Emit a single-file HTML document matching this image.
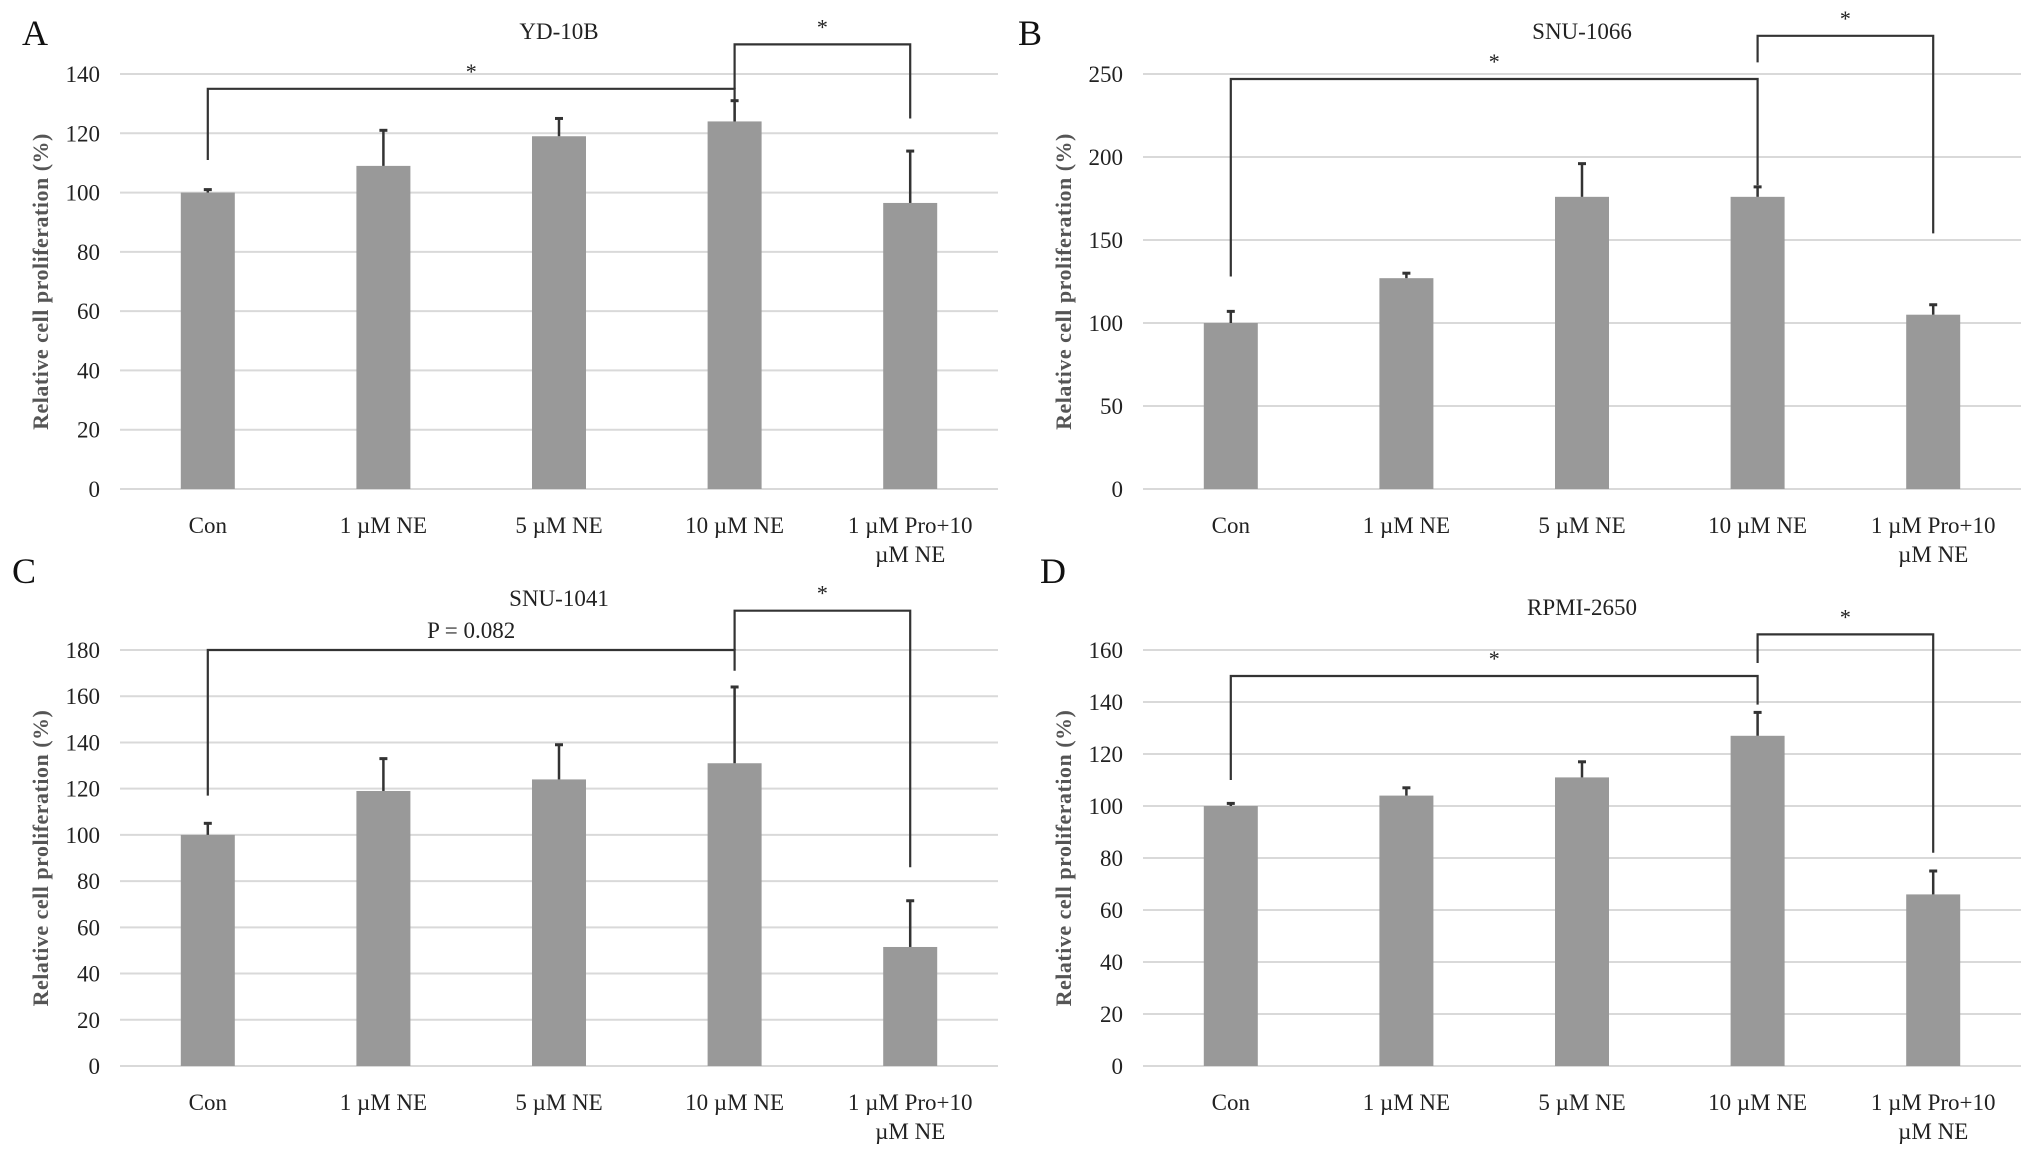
<!DOCTYPE html>
<html><head><meta charset="utf-8"><style>
html,body{margin:0;padding:0;background:#fff;}
svg{display:block;font-family:"Liberation Serif",serif;}
</style></head><body>
<svg id="fig" width="2031" height="1155" viewBox="0 0 2031 1155"></svg>
<script>
const categories = ["Con","1 µM NE","5 µM NE","10 µM NE","1 µM Pro+10|µM NE"];
const titles = ["YD-10B","SNU-1066","SNU-1041","RPMI-2650"];
const letters = ["A","B","C","D"];
const valsA = [100,109,119,124,96.5];
const errA = [1,12,6,7,17.5];
const valsB = [100,127,176,176,105];
const errB = [7,3,20,6,6];
const valsC = [100,119,124,131,51.5];
const errC = [5,14,15,33,20];
const valsD = [100,104,111,127,66];
const errD = [1,3,6,9,9];
const ticksA = [0,20,40,60,80,100,120,140];
const ticksB = [0,50,100,150,200,250];
const ticksC = [0,20,40,60,80,100,120,140,160,180];
const ticksD = [0,20,40,60,80,100,120,140,160];
// brackets: [y, leftEnd, rightEnd] in data units
const brA = [[135,111,124],[150,135,125]];
const brB = [[247,128,183],[273,257,154]];
const brC = [[180,117,171],[197,180,86]];
const brD = [[150,110,139],[166,155,82]];
const brLabelC = "P = 0.082";

const panels = [
 {vals:valsA,err:errA,ticks:ticksA,br:brA,x0:120,x1:998,y0:489,y1:74,lx:22,ly:25,tl:["*","*"]},
 {vals:valsB,err:errB,ticks:ticksB,br:brB,x0:1143,x1:2021,y0:489,y1:74,lx:1018,ly:25,tl:["*","*"]},
 {vals:valsC,err:errC,ticks:ticksC,br:brC,x0:120,x1:998,y0:1066,y1:650,lx:12,ly:563,tl:[brLabelC,"*"]},
 {vals:valsD,err:errD,ticks:ticksD,br:brD,x0:1143,x1:2021,y0:1066,y1:650,lx:1040,ly:563,tl:["*","*"]}
];
const NS="http://www.w3.org/2000/svg";
const svg=document.getElementById('fig');
function mk(tag,attrs,parent){const e=document.createElementNS(NS,tag);for(const k in attrs)e.setAttribute(k,attrs[k]);(parent||svg).appendChild(e);return e;}
panels.forEach((p,i)=>{
  const g=mk('g',{});
  
  
  const max=p.ticks[p.ticks.length-1];
  const y=v=>p.y0-(v/max)*(p.y0-p.y1);
  const bw=(p.x1-p.x0)/5;
  const x=k=>p.x0+bw*(k+0.5)-0*(k);
  p.ticks.forEach(t=>{
    const l=mk('line',{x1:p.x0,x2:p.x1,y1:y(t),y2:y(t),stroke:'#d9d9d9','stroke-width':2},g);
    
    
    const tx=mk('text',{x:p.x0-20,y:y(t)+8,'text-anchor':'end','font-size':23,fill:'#222'},g);
    tx.textContent=t;
    
    
  });
  p.vals.forEach((v,k)=>{
    const cx=x(k);
    const r=mk('rect',{x:cx-27,y:y(v),width:54,height:p.y0-y(v),fill:'#999'},g);
    
    
    const e=mk('line',{x1:cx,x2:cx,y1:y(v),y2:y(v+p.err[k]),stroke:'#333','stroke-width':2.5},g);
    
    
    const c=mk('line',{x1:cx-4,x2:cx+4,y1:y(v+p.err[k]),y2:y(v+p.err[k]),stroke:'#333','stroke-width':3},g);
    
    
    const parts=categories[k].split('|');
    parts.forEach((s,j)=>{
      const t=mk('text',{x:cx,y:p.y0+44+j*29,'text-anchor':'middle','font-size':23,fill:'#222'},g);
      t.textContent=s;
      
      
    });
  });
  const pairs=[[0,3],[3,4]];
  p.br.forEach((b,j)=>{
    const xa=x(pairs[j][0]),xb=x(pairs[j][1]);
    const pl=mk('polyline',{points:`${xa},${y(b[1])} ${xa},${y(b[0])} ${xb},${y(b[0])} ${xb},${y(b[2])}`,fill:'none',stroke:'#333','stroke-width':2.2},g);
    
    
    const lbl=p.tl[j];
    const t=mk('text',{x:(xa+xb)/2,y:y(b[0])-(lbl==='*'?10:12),'text-anchor':'middle','font-size':lbl==='*'?22:23,fill:'#222'},g);
    t.textContent=lbl;
    
    
  });
  const ti=mk('text',{x:(p.x0+p.x1)/2-0,y:(i<2?39:(i==2?606:615)),'text-anchor':'middle','font-size':23,fill:'#222'},g);
  ti.textContent=titles[i];
  
  
  const le=mk('text',{x:p.lx,y:p.ly+20,'font-size':36,fill:'#111'},g);
  le.textContent=letters[i];
  
  
  const cy=(p.y0+p.y1)/2;
  const yl=mk('text',{x:0,y:0,transform:`translate(${p.x0-72},${cy}) rotate(-90)`,'text-anchor':'middle','font-size':22,fill:'#555','font-weight':'bold','letter-spacing':'0.5'},g);
  yl.textContent='Relative cell proliferation (%)';
  
  
});
</script>
</body></html>
